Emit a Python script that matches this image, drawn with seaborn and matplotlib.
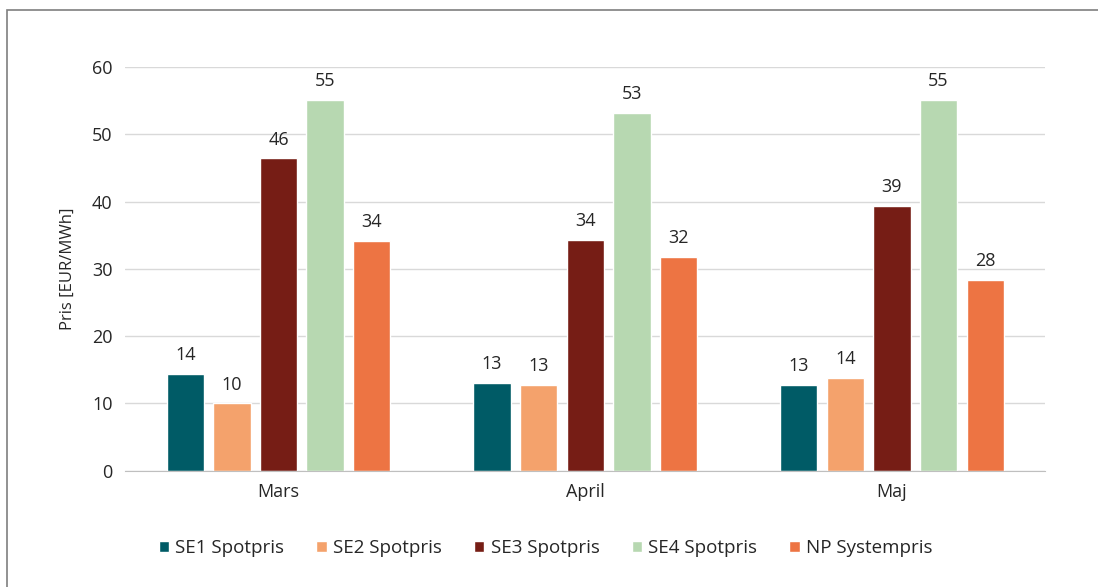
import pandas as pd
import numpy as np
import matplotlib.pyplot as plt
import seaborn as sns
from matplotlib.patches import Rectangle

# ------------------------------------------------------------------
# Data
# ------------------------------------------------------------------
months = ['Mars', 'April', 'Maj']
series = ['SE1 Spotpris', 'SE2 Spotpris', 'SE3 Spotpris', 'SE4 Spotpris', 'NP Systempris']

se1 = [14.4, 13.1, 12.8]
se2 = [10.0, 12.8, 13.8]
se3 = [46.4, 34.3, 39.4]
se4 = [55.1, 53.2, 55.1]
np_sys = [34.2, 31.8, 28.4]

colors = ['#005b66', '#f4a26c', '#761d15', '#b7d8b1', '#ed7443']

# Build long table
df = pd.DataFrame({'Månad': months * 5,
                   'Serie': np.repeat(series, 3),
                   'Pris': se1 + se2 + se3 + se4 + np_sys})

# ------------------------------------------------------------------
# Plot
# ------------------------------------------------------------------
sns.set_style('white')
plt.rcParams['font.family'] = ['Open Sans', 'DejaVu Sans']

fig = plt.figure(figsize=(10.98, 5.87), dpi=100)
ax = fig.add_axes([0.114, 0.198, 0.838, 0.688])

# Outer frame
fig.patches.append(Rectangle((7 / 1098, -0.05), 1.1, 1 - 10 / 587 + 0.05,
                             transform=fig.transFigure, fill=False,
                             edgecolor='#7f7f7f', linewidth=1.2))

sns.barplot(data=df, x='Månad', y='Pris', hue='Serie', order=months,
            hue_order=series, palette=colors, width=0.76, gap=0.2,
            saturation=1, ax=ax)

for container in ax.containers:
    ax.bar_label(container, fmt='%.0f', padding=7, fontsize=13, color='#262626')

ax.set_ylim(0, 60)
ax.set_yticks(range(0, 61, 10))
ax.yaxis.grid(True, color='#d9d9d9', linewidth=1)
ax.set_axisbelow(True)
for side in ['top', 'right', 'left']:
    ax.spines[side].set_visible(False)
ax.spines['bottom'].set_color('#bfbfbf')
ax.tick_params(axis='both', length=0, labelsize=13, colors='#262626', pad=9)
ax.set_xlabel('')
ax.set_ylabel('Pris [EUR/MWh]', fontsize=12, color='#262626', labelpad=12)

ax.legend(title=None, loc='lower center', bbox_to_anchor=(0.457, -0.255),
          ncol=5, frameon=False, fontsize=13.5, handlelength=0.55,
          handleheight=0.55, columnspacing=1.7, handletextpad=0.35)

fig.savefig('out.png', dpi=100)
